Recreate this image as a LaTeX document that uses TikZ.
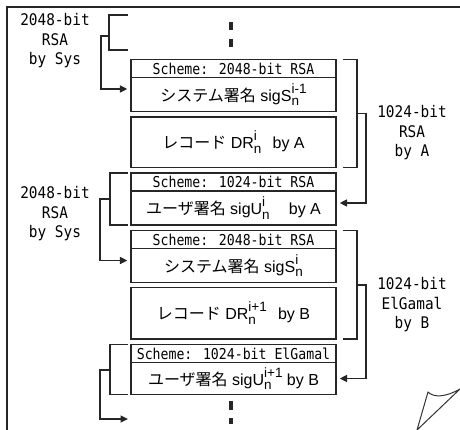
\documentclass[tikz,border=0pt]{standalone}
\usepackage{fontspec}
\setmainfont{Liberation Sans}
\newfontfamily\jpfont{Noto Sans CJK JP}
\newfontfamily\gmono{DejaVu Sans Mono}[FakeStretch=0.88]
\newfontfamily\glbl{DejaVu Sans Mono}[FakeStretch=0.9]
\usetikzlibrary{arrows.meta}
\newcommand\supsub[2]{{\fontsize{13.5}{13.5}\selectfont%
 \setbox0\hbox{#1}\setbox2\hbox{#2}%
 \dimen0=\wd0 \ifdim\wd2>\dimen0 \dimen0=\wd2 \fi%
 \rlap{\raisebox{-4.5pt}{\copy0}}\rlap{\raisebox{8pt}{\copy2}}\hspace*{\dimen0}}}
\begin{document}
\begin{tikzpicture}[x=1pt,y=-1pt,
  ln/.style={draw=black!85, line width=1.3pt},
  hdr/.style={ln, minimum width=205pt, minimum height=18pt, inner sep=0pt, font=\gmono\fontsize{15}{15}\selectfont},
  bodybox/.style={ln, minimum width=205pt, inner sep=0pt, font=\fontsize{16}{17}\selectfont},
  brk/.style={draw=black!85, line width=1.6pt},
  arr/.style={brk, -{Triangle[length=7.5pt,width=7pt]}, shorten >=3pt},
  lbl/.style={align=center, font=\glbl\fontsize{16}{19.5}\selectfont, inner sep=0pt},
  dotbar/.style={fill=black!85}]
\useasboundingbox (0,0) rectangle (460,430);
% page frame and curled corner
\draw[line width=1.5pt, black!85] (460,7) -- (7,7) -- (7,430);
\draw[line width=1pt, black!80, line join=round] (417,430) -- (428,392) .. controls (434,398) and (446,397) .. (460,389) -- cycle;
% boxes
\node[hdr] (h1) at (233.5,68.5) {Scheme: 2048-bit RSA};
\node[bodybox, minimum height=34pt] (s1) at (233.5,94.5) {{\jpfont システム署名} sigS\supsub{n}{i-1}};
\node[bodybox, minimum height=50.5pt] (r1) at (233.5,142.25) {{\jpfont レコード} DR\supsub{n}{i}\hspace{0.7em}by A};
\node[hdr] (h2) at (233.5,182) {Scheme: 1024-bit RSA};
\node[bodybox, minimum height=34pt] (u1) at (233.5,208) {{\jpfont ユーザ署名} sigU\supsub{n}{i}\hspace{1.2em}by A};
\node[hdr] (h3) at (233.5,239.5) {Scheme: 2048-bit RSA};
\node[bodybox, minimum height=34pt] (s2) at (233.5,265.5) {{\jpfont システム署名} sigS\supsub{n}{i}};
\node[bodybox, minimum height=51.5pt] (r2) at (233.5,313.25) {{\jpfont レコード} DR\supsub{n}{i+1}\hspace{0.7em}by B};
\node[hdr] (h4) at (233.5,353.5) {Scheme: 1024-bit ElGamal};
\node[bodybox, minimum height=32pt] (u2) at (233.5,378.5) {{\jpfont ユーザ署名} sigU\supsub{n}{i+1} by B};
% continuation dots
\fill[dotbar] (229,22) rectangle (233,30);
\fill[dotbar] (229,39) rectangle (233,47);
\fill[dotbar] (229,401) rectangle (233,410);
\fill[dotbar] (229,418) rectangle (233,424);
% labels
\node[lbl] (t1) at (55,41) {2048-bit\\RSA\\by Sys};
\node[lbl] (t2) at (55,214) {2048-bit\\RSA\\by Sys};
\node[lbl] (t3) at (412,133) {1024-bit\\RSA\\by A};
\node[lbl] (t4) at (412,305) {1024-bit\\ElGamal\\by B};
% left brackets
\draw[brk] (128,15) -- (109,15) -- (109,50) -- (128,50);
\draw[arr] (109,36) -- (101,36) -- (101,89) -- ([yshift=5.5pt]s1.west);
\draw[brk] (128,173) -- (110,173) -- (110,225) -- (128,225);
\draw[arr] (110,199) -- (100,199) -- (100,260.5) -- ([yshift=5pt]s2.west);
\draw[brk] (128,344.5) -- (110,344.5) -- (110,394.5) -- (128,394.5);
\coordinate (nx) at (131,419);
\draw[arr] (110,370) -- (100,370) -- (100,419) -- (nx);
% right brackets
\draw[brk] (343,59.5) -- (357,59.5) -- (357,167.5) -- (343,167.5);
\draw[arr] (357,113.5) -- (366,113.5) -- (366,203) -- ([yshift=5pt]u1.east);
\draw[brk] (343,230.5) -- (357,230.5) -- (357,339) -- (343,339);
\draw[arr] (357,285) -- (366,285) -- (366,378.5) -- (u2.east);
\end{tikzpicture}
\end{document}
